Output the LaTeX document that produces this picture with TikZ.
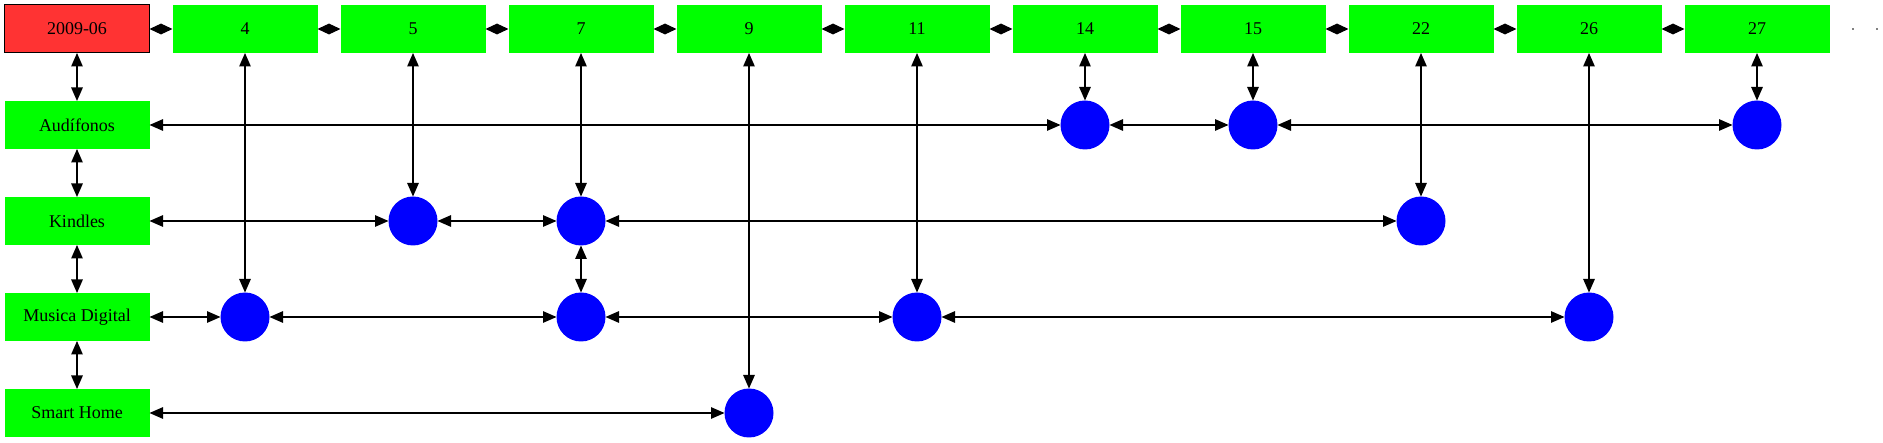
\documentclass[tikz,border=0pt]{standalone}
\usepackage{fontspec}
\setmainfont{Liberation Serif}
\usetikzlibrary{arrows.meta}
\definecolor{gvgreen}{RGB}{0,255,0}
\definecolor{gvred}{RGB}{255,51,51}
\definecolor{gvblue}{RGB}{0,0,255}
\tikzset{
  gbox/.style={rectangle, fill=gvgreen, minimum width=145pt, minimum height=48pt, inner sep=0pt, outer sep=0pt, font=\fontsize{18}{21}\selectfont},
  rbox/.style={gbox, fill=gvred, draw=black, line width=1pt},
  blob/.style={circle, fill=gvblue, minimum size=49pt, inner sep=0pt, outer sep=0pt},
  tinydot/.style={circle, fill=black, minimum size=1.6pt, inner sep=0pt},
  conn/.style={{Triangle[length=13.5pt,width=11.5pt]}-{Triangle[length=13.5pt,width=11.5pt]}, line width=1.3pt},
  hconn/.style={{Triangle[length=11.5pt,width=10.5pt]}-{Triangle[length=11.5pt,width=10.5pt]}, line width=1.3pt}
}
\begin{document}
\begin{tikzpicture}[x=1pt,y=-1pt]
\useasboundingbox (0,0) rectangle (1883,443);
% header row
\node[rbox] (h0) at (77,29) {2009-06};
\foreach \i/\t in {1/4,2/5,3/7,4/9,5/11,6/14,7/15,8/22,9/26,10/27}
  \node[gbox] (h\i) at ({77+168*\i},29) {\t};
\node[tinydot] (e1) at (1853,29) {};
\node[tinydot] (e2) at (1877,29) {};
% row labels
\node[gbox] (ra) at (77,125) {Audífonos};
\node[gbox] (rk) at (77,221) {Kindles};
\node[gbox] (rm) at (77,317) {Musica Digital};
\node[gbox] (rs) at (77,413) {Smart Home};
% circles
\node[blob] (a14) at (1085,125) {};
\node[blob] (a15) at (1253,125) {};
\node[blob] (a27) at (1757,125) {};
\node[blob] (k5) at (413,221) {};
\node[blob] (k7) at (581,221) {};
\node[blob] (k22) at (1421,221) {};
\node[blob] (m4) at (245,317) {};
\node[blob] (m7) at (581,317) {};
\node[blob] (m11) at (917,317) {};
\node[blob] (m26) at (1589,317) {};
\node[blob] (s9) at (749,413) {};
% header chain
\foreach \a/\b in {0/1,1/2,2/3,3/4,4/5,5/6,6/7,7/8,8/9,9/10}
  \draw[hconn] (h\a) -- (h\b);
% left column
\draw[conn] (h0) -- (ra);
\draw[conn] (ra) -- (rk);
\draw[conn] (rk) -- (rm);
\draw[conn] (rm) -- (rs);
% verticals
\draw[conn] (h1) -- (m4);
\draw[conn] (h2) -- (k5);
\draw[conn] (h3) -- (k7);
\draw[conn] (k7) -- (m7);
\draw[conn] (h4) -- (s9);
\draw[conn] (h5) -- (m11);
\draw[conn] (h6) -- (a14);
\draw[conn] (h7) -- (a15);
\draw[conn] (h8) -- (k22);
\draw[conn] (h9) -- (m26);
\draw[conn] (h10) -- (a27);
% horizontals
\draw[conn] (ra) -- (a14);
\draw[conn] (a14) -- (a15);
\draw[conn] (a15) -- (a27);
\draw[conn] (rk) -- (k5);
\draw[conn] (k5) -- (k7);
\draw[conn] (k7) -- (k22);
\draw[conn] (rm) -- (m4);
\draw[conn] (m4) -- (m7);
\draw[conn] (m7) -- (m11);
\draw[conn] (m11) -- (m26);
\draw[conn] (rs) -- (s9);
\end{tikzpicture}
\end{document}
